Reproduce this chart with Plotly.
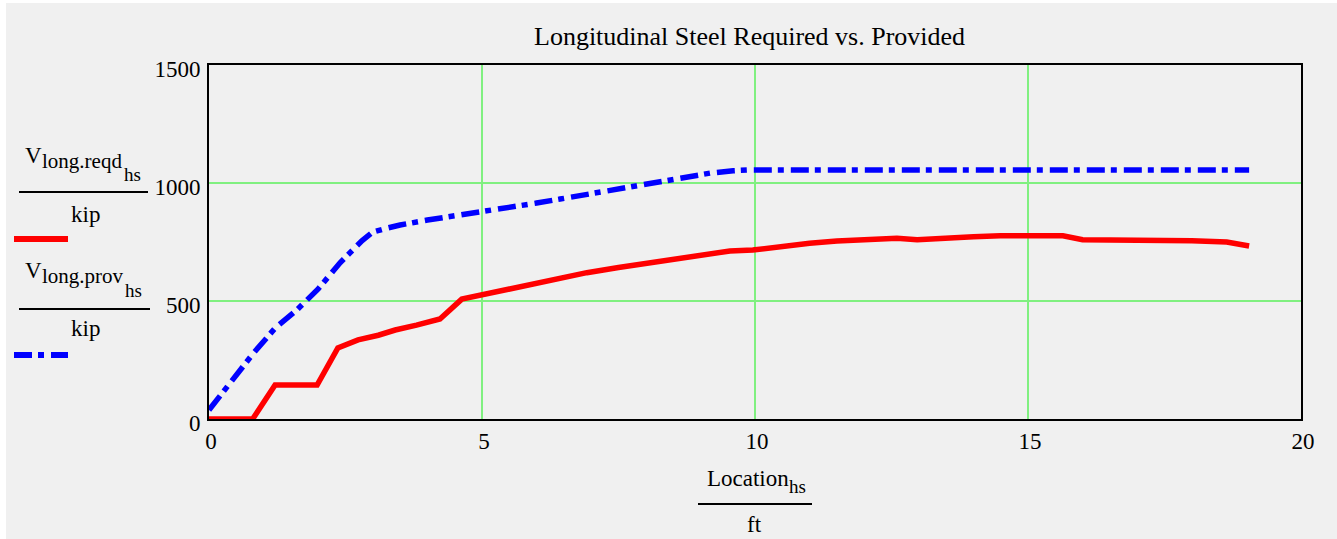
import plotly.graph_objects as go

# ---- data ----
loc_reqd = [0, 0.8, 1.21, 1.98, 2.36, 2.73, 3.1, 3.41, 3.8, 4.23, 4.63, 5.0, 5.5, 6.0, 6.5,
            6.92, 7.5, 8.0, 8.5, 9.0, 9.54, 9.96, 10.5, 11.0, 11.5, 12.1, 12.6, 12.97,
            13.5, 14.0, 14.49, 15.0, 15.64, 16.0, 16.5, 17.0, 17.5, 18.0, 18.64, 19.05]
v_reqd = [0, 0, 144, 144, 301, 335, 355, 377, 398, 424, 508, 527, 552, 578, 603,
          620, 642, 660, 678, 695, 712, 716, 732, 745, 754, 762, 766, 760,
          768, 772, 776, 775, 776, 760, 760, 759, 757, 755, 750, 733]

loc_prov = [0, 0.4, 0.8, 1.21, 1.4, 1.6, 2.0, 2.4, 2.8, 3.0, 3.26, 3.5, 4.0, 4.5, 5.05,
            5.5, 6.0, 6.43, 7.0, 7.84, 8.5, 9.18, 9.6, 9.85, 19.05]
v_prov = [38, 155, 275, 385, 420, 460, 551, 662, 755, 792, 809, 822, 843, 860, 877,
          898, 915, 932, 955, 983, 1010, 1042, 1052, 1055, 1055]

x_ticks = [0, 5, 10, 15, 20]
x_tick_text = ["0", "5", "10", "15", "20"]
y_ticks = [0, 500, 1000, 1500]
y_tick_text = ["0", "500", "1000", "1500"]

title_text = "Longitudinal Steel Required vs. Provided"

W, H = 1337, 539
FONT = "Liberation Serif, Times New Roman, serif"
GREEN = "rgb(128,240,128)"
DASHDOT = "18px,6px,6px,7px"


def px(x):
    return x / W


def py(y):
    return 1 - y / H


fig = go.Figure()
fig.add_trace(go.Scatter(x=loc_reqd, y=v_reqd, mode="lines",
                         line=dict(color="#ff0000", width=5.5), showlegend=False))
fig.add_trace(go.Scatter(x=loc_prov, y=v_prov, mode="lines",
                         line=dict(color="#0000ff", width=5.5, dash=DASHDOT),
                         showlegend=False))

axis_common = dict(showline=True, linecolor="black", linewidth=2, mirror=True,
                   showgrid=True, gridcolor=GREEN, gridwidth=2, zeroline=False,
                   ticks="", automargin=False,
                   tickfont=dict(family=FONT, size=23, color="black"))

fig.update_layout(
    width=W, height=H,
    autosize=False,
    margin=dict(l=0, r=0, t=0, b=0, pad=0, autoexpand=False),
    paper_bgcolor="#f0f0f0",
    plot_bgcolor="#f0f0f0",
    xaxis=dict(domain=[px(209), px(1301)], range=[0, 20], tickvals=x_ticks,
               ticktext=x_tick_text, ticklabelstandoff=0, ticklabelshift=2,
               **axis_common),
    yaxis=dict(domain=[py(419), py(65)], range=[0, 1500], tickvals=y_ticks,
               ticktext=y_tick_text, ticklabelstandoff=2, ticklabelshift=4,
               **axis_common),
)

shapes = [
    # white outer margins
    dict(type="rect", xref="paper", yref="paper", x0=0, x1=px(6), y0=0, y1=1,
         fillcolor="white", line=dict(width=0), layer="below"),
    dict(type="rect", xref="paper", yref="paper", x0=0, x1=1, y0=py(3), y1=1,
         fillcolor="white", line=dict(width=0), layer="below"),
    # fraction bars
    dict(type="line", xref="paper", yref="paper", x0=px(19), x1=px(148), y0=py(192), y1=py(192),
         line=dict(color="black", width=2)),
    dict(type="line", xref="paper", yref="paper", x0=px(19), x1=px(150), y0=py(309), y1=py(309),
         line=dict(color="black", width=2)),
    dict(type="line", xref="paper", yref="paper", x0=px(698), x1=px(812), y0=py(504), y1=py(504),
         line=dict(color="black", width=2)),
    # legend samples
    dict(type="line", xref="paper", yref="paper", x0=px(14), x1=px(68), y0=py(239), y1=py(239),
         line=dict(color="#ff0000", width=6)),
    dict(type="line", xref="paper", yref="paper", x0=px(14), x1=px(68), y0=py(355), y1=py(355),
         line=dict(color="#0000ff", width=6, dash=DASHDOT)),
]
fig.update_layout(shapes=shapes)


def ann(text, x, y, size, xanchor="left"):
    fig.add_annotation(text=text, xref="paper", yref="paper", x=px(x), y=py(y),
                       xanchor=xanchor, yanchor="middle", showarrow=False,
                       font=dict(family=FONT, size=size, color="black"))


# title
ann(title_text, 749.5, 37, 26, "center")
# legend item 1
ann("V", 23, 155, 23)
ann("long.reqd", 40, 161, 21)
ann("hs", 122, 174, 19)
ann("kip", 85, 214, 23, "center")
# legend item 2
ann("V", 23, 270, 23)
ann("long.prov", 40, 276, 21)
ann("hs", 123, 290, 19)
ann("kip", 85, 328, 23, "center")
# x label
ann("Location", 705, 479, 23)
ann("hs", 787, 486, 19)
ann("ft", 755, 524, 23, "center")

fig.write_html(
    "out.html",
    config={"responsive": False, "displayModeBar": False},
    post_script="document.body.style.margin='0';document.body.style.padding='0';"
                "document.documentElement.style.overflow='hidden';",
)
